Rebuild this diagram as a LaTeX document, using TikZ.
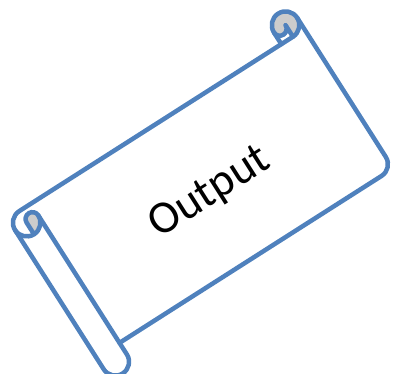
\documentclass[tikz,border=0pt]{standalone}
\usepackage{fontspec}
\setmainfont{Carlito}
\usepackage{tikz}
\definecolor{ScrollBlue}{HTML}{4F81BD}
\definecolor{CurlGray}{HTML}{CCCCCC}

\begin{document}
\begin{tikzpicture}[
  x=1pt, y=1pt,
  scrollline/.style={draw=ScrollBlue, line width=4.5pt, line join=round, line cap=round},
  curlfill/.style={fill=CurlGray},
  label/.style={font=\fontsize{46}{50}\selectfont, text=black, inner sep=0pt}
]
\useasboundingbox (0,0) rectangle (393,-374);
\begin{scope}[shift={(-7.1,-195.3)}, rotate=32.5]
  % sheet with both rolls
  \path[fill=white] (0,-41.25) arc[start angle=180, end angle=90, radius=13.75]
    -- (324.5,-27.5) -- (324.5,-13.75) arc[start angle=180, delta angle=-180, radius=13.75]
    -- (352,-178.75) arc[start angle=0, delta angle=-90, radius=13.75]
    -- (27.5,-192.5) -- (27.5,-206.25) arc[start angle=0, delta angle=-180, radius=13.75]
    -- cycle;
  % shaded insides of the curls
  \path[curlfill] (13.75,-55) arc[start angle=-90, delta angle=90, radius=13.75]
    arc[start angle=0, delta angle=180, radius=6.875] -- cycle;
  \path[curlfill] (338.25,-27.5) arc[start angle=-90, delta angle=270, radius=13.75]
    arc[start angle=180, delta angle=180, radius=6.875] -- cycle;
  % outline
  \draw[scrollline] (0,-41.25) arc[start angle=180, end angle=90, radius=13.75]
    -- (324.5,-27.5) -- (324.5,-13.75) arc[start angle=180, delta angle=-180, radius=13.75]
    -- (352,-178.75) arc[start angle=0, delta angle=-90, radius=13.75]
    -- (27.5,-192.5) -- (27.5,-206.25) arc[start angle=0, delta angle=-180, radius=13.75]
    -- cycle;
  \draw[scrollline] (324.5,-27.5) -- (338.25,-27.5) arc[start angle=-90, delta angle=90, radius=13.75];
  \draw[scrollline] (338.25,-27.5) -- (338.25,-13.75) arc[start angle=0, delta angle=-180, radius=6.875];
  \draw[scrollline] (13.75,-55) -- (13.75,-41.25) arc[start angle=180, delta angle=-180, radius=6.875]
    arc[start angle=0, delta angle=-180, radius=13.75];
  \draw[scrollline] (27.5,-41.25) -- (27.5,-192.5);
\end{scope}
\node[label, rotate=32.5] (title) at (210,-193) {Output};
\end{tikzpicture}
\end{document}
